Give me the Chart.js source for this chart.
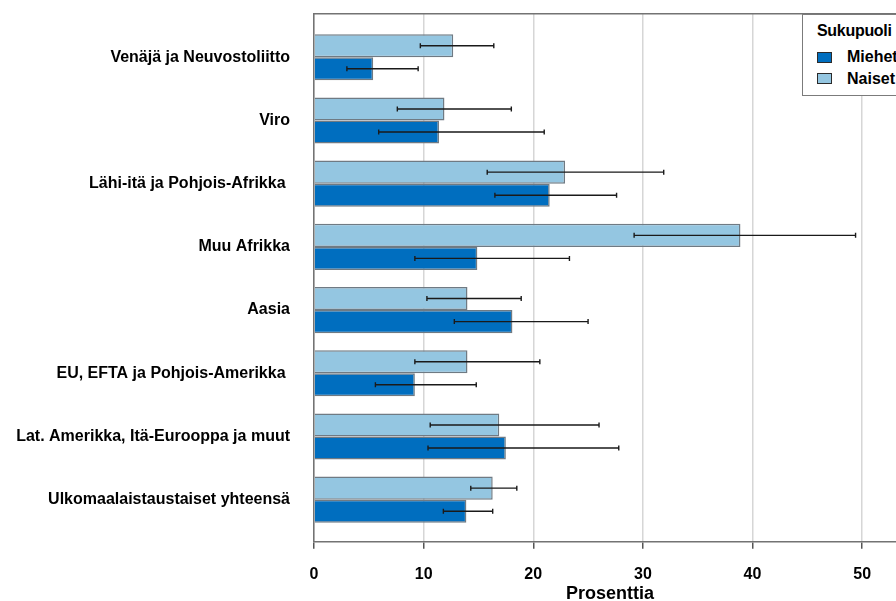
<!DOCTYPE html>
<html lang="fi">
<head>
<meta charset="utf-8">
<title>Sukupuoli ja alue</title>
<script src="https://cdn.jsdelivr.net/npm/chart.js@4.4.1/dist/chart.umd.min.js"></script>
<style>
    html, body { margin: 0; padding: 0; background: #fff; overflow: hidden; }
    #wrap { position: relative; width: 906px; height: 601px; overflow: hidden; }
    #legend {
        position: absolute; left: 802px; top: 14px; width: 104px; height: 82px;
        box-sizing: border-box; border: 1px solid #7b7b7b; border-right: none; background: #fff;
        padding: 7px 0 0 14px; color: #000;
        font: bold 16px "Liberation Sans", Arial, sans-serif;
        white-space: nowrap;
    }
    .legend-title { line-height: 18px; margin-bottom: 6.5px; letter-spacing: -0.3px; }
    .legend-item { display: flex; align-items: center; height: 21.5px; }
    .legend-swatch { width: 13px; height: 9px; border: 1px solid #2b2b2b; margin-right: 15px; }
</style>
</head>
<body>
<div id="wrap">
    <canvas id="chart"></canvas>
    <div id="legend"></div>
</div>
<script>
// Data (top to bottom)
const categories = [
    'Venäjä ja Neuvostoliitto',
    'Viro',
    'Lähi-itä ja Pohjois-Afrikka ',
    'Muu Afrikka',
    'Aasia',
    'EU, EFTA ja Pohjois-Amerikka ',
    'Lat. Amerikka, Itä-Eurooppa ja muut',
    'Ulkomaalaistaustaiset yhteensä'
];
const naiset     = [12.7, 11.9, 22.9, 38.9, 14.0, 14.0, 16.9, 16.3];
const naisetLow  = [ 9.7,  7.6, 15.8, 29.2, 10.3,  9.2, 10.6, 14.3];
const naisetHigh = [16.4, 18.0, 31.9, 49.4, 18.9, 20.6, 26.0, 18.5];
const miehet     = [ 5.4, 11.4, 21.5, 14.9, 18.1,  9.2, 17.5, 13.9];
const miehetLow  = [ 3.0,  5.9, 16.5,  9.2, 12.8,  5.6, 10.4, 11.8];
const miehetHigh = [ 9.5, 21.0, 27.6, 23.3, 25.0, 14.8, 27.8, 16.3];
const xTicks = [0, 10, 20, 30, 40, 50];

const FONT = '"Liberation Sans", Arial, sans-serif';

// Error bars drawn on top of the bars
const errorBars = {
    id: 'errorBars',
    afterDatasetsDraw(chart) {
        const ctx = chart.ctx;
        const xScale = chart.scales.x;
        ctx.save();
        ctx.strokeStyle = '#1a1a1a';
        ctx.lineWidth = 1.4;
        chart.data.datasets.forEach((ds, di) => {
            const meta = chart.getDatasetMeta(di);
            meta.data.forEach((bar, i) => {
                const x1 = xScale.getPixelForValue(ds.errLow[i]);
                const x2 = xScale.getPixelForValue(ds.errHigh[i]);
                const y = bar.y;
                ctx.beginPath();
                ctx.moveTo(x1, y); ctx.lineTo(x2, y);
                ctx.moveTo(x1, y - 2.5); ctx.lineTo(x1, y + 2.5);
                ctx.moveTo(x2, y - 2.5); ctx.lineTo(x2, y + 2.5);
                ctx.stroke();
            });
        });
        ctx.restore();
    }
};

const ctx = document.getElementById('chart').getContext('2d');
const chart = new Chart(ctx, {
    type: 'bar',
    data: {
        datasets: [{
            label: 'Naiset',
            data: naiset.map((v, i) => ({ x: v, y: i })),
            errLow: naisetLow,
            errHigh: naisetHigh,
            backgroundColor: '#94c6e1',
            borderColor: '#6f7a83',
            borderWidth: 1.5,
            xAxisID: 'x',
            yAxisID: 'y'
        }, {
            label: 'Miehet',
            data: miehet.map((v, i) => ({ x: v, y: i })),
            errLow: miehetLow,
            errHigh: miehetHigh,
            backgroundColor: '#006ebf',
            borderColor: '#6f7a83',
            borderWidth: 1.5,
            xAxisID: 'x',
            yAxisID: 'y'
        }]
    },
    options: {
        indexAxis: 'y',
        responsive: true,
        maintainAspectRatio: false,
        animation: false,
        categoryPercentage: 0.73,
        barPercentage: 1.0,
        layout: { padding: 0 },
        plugins: {
            legend: { display: false },
            tooltip: { enabled: false }
        },
        scales: {
            x: {
                type: 'linear',
                position: 'bottom',
                min: 0,
                max: 54,
                afterFit: scale => { scale.height = 59.3; },
                ticks: {
                    stepSize: 10,
                    includeBounds: false,
                    padding: 16,
                    color: '#000',
                    font: { family: FONT, size: 16, weight: 'bold' },
                    callback: v => xTicks.includes(v) ? String(v) : ''
                },
                grid: {
                    color: '#d6d6d6',
                    lineWidth: 1.5,
                    tickLength: 7,
                    tickColor: '#555',
                    tickWidth: 1.5
                },
                border: { display: true, color: '#737373', width: 1.5 },
                title: {
                    display: true,
                    text: 'Prosenttia',
                    color: '#000',
                    padding: 0,
                    font: { family: FONT, size: 18, weight: 'bold', lineHeight: 0.8 }
                }
            },
            xTop: {
                type: 'linear',
                axis: 'x',
                position: 'top',
                afterFit: scale => { scale.height = 14; },
                ticks: { display: false },
                grid: { display: false },
                border: { display: true, color: '#737373', width: 1.5 }
            },
            y: {
                type: 'linear',
                reverse: true,
                offset: false,
                min: -0.685,
                max: 7.665,
                afterFit: scale => {
                    scale.width = 314;
                    scale.paddingTop = 0;
                    scale.paddingBottom = 0;
                },
                ticks: {
                    stepSize: 1,
                    includeBounds: false,
                    autoSkip: false,
                    padding: 24,
                    color: '#000',
                    font: { family: FONT, size: 16, weight: 'bold' },
                    callback: v => categories[Math.round(v)] ?? ''
                },
                grid: { display: false, drawTicks: false },
                border: { display: true, color: '#737373', width: 1.5 }
            }
        }
    },
    plugins: [errorBars]
});

// Legend (Miehet first, as in the original)
function buildLegend() {
    const box = document.getElementById('legend');
    box.innerHTML = '<div class="legend-title">Sukupuoli</div>';
    chart.data.datasets.slice().reverse().forEach(ds => {
        const item = document.createElement('div');
        item.className = 'legend-item';
        item.innerHTML = `<span class="legend-swatch" style="background:${ds.backgroundColor}"></span><span>${ds.label}</span>`;
        box.appendChild(item);
    });
}
buildLegend();
</script>
</body>
</html>
